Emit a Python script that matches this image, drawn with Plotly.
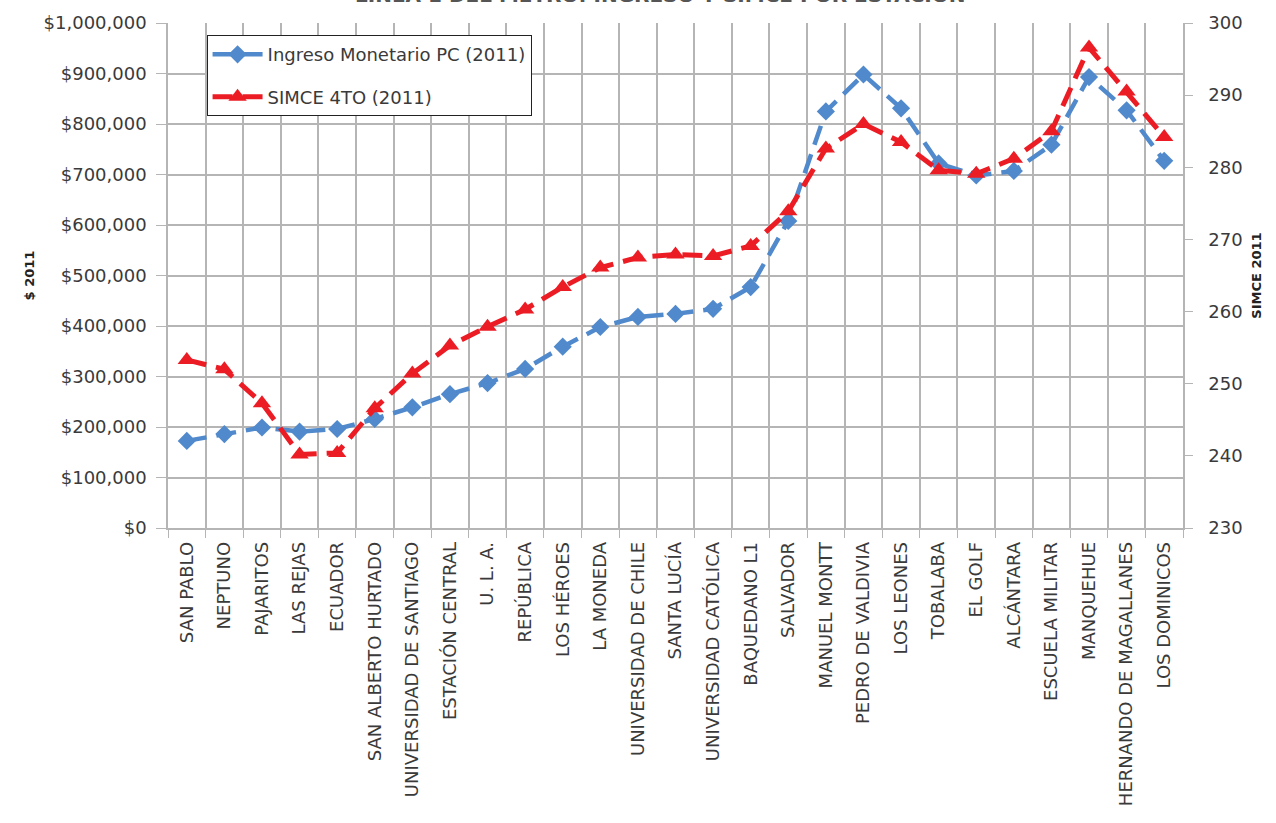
import plotly.graph_objects as go

estaciones = ["SAN PABLO", "NEPTUNO", "PAJARITOS", "LAS REJAS", "ECUADOR",
              "SAN ALBERTO HURTADO", "UNIVERSIDAD DE SANTIAGO", "ESTACIÓN CENTRAL",
              "U. L. A.", "REPÚBLICA", "LOS HÉROES", "LA MONEDA",
              "UNIVERSIDAD DE CHILE", "SANTA LUCÍA", "UNIVERSIDAD CATÓLICA",
              "BAQUEDANO L1", "SALVADOR", "MANUEL MONTT", "PEDRO DE VALDIVIA",
              "LOS LEONES", "TOBALABA", "EL GOLF", "ALCÁNTARA", "ESCUELA MILITAR",
              "MANQUEHUE", "HERNANDO DE MAGALLANES", "LOS DOMINICOS"]

ingreso = [172500, 186000, 199000, 191000, 196000, 216000, 239000, 265000,
           287000, 315000, 359000, 398000, 418000, 424000, 434000, 477000,
           608000, 825000, 898000, 831000, 722000, 698000, 707000, 759000,
           893000, 827000, 727000]

simce = [253.3, 252.0, 247.3, 240.2, 240.4, 246.6, 251.4, 255.3,
         257.9, 260.3, 263.4, 266.1, 267.5, 267.9, 267.7, 269.1,
         273.9, 282.6, 286.0, 283.5, 279.6, 279.1, 281.2, 285.0,
         296.6, 290.5, 284.2]

left_ticks = list(range(0, 1000001, 100000))
right_ticks = list(range(230, 301, 10))

FONT = "DejaVu Sans"
TXT = "#3a3a3a"
GRID = "#b5b5b5"
BLUE = "#5089cc"
RED = "#ec1c24"

fig = go.Figure()
fig.add_trace(go.Scatter(
    x=estaciones, y=ingreso, name="Ingreso Monetario PC (2011)",
    mode="lines+markers", legendgroup="a",
    line=dict(color=BLUE, width=4.5, dash="20px,10px"),
    marker=dict(symbol="diamond", size=14, color=BLUE),
    yaxis="y"))
fig.add_trace(go.Scatter(
    x=estaciones, y=simce, name="SIMCE 4TO (2011)",
    mode="lines+markers", legendgroup="b",
    line=dict(color=RED, width=5, dash="20px,10px"),
    marker=dict(symbol="triangle-up", size=16, color=RED),
    yaxis="y2"))

fig.add_annotation(
    text="<b>LÍNEA 1 DEL METRO: INGRESO Y SIMCE POR ESTACIÓN</b>",
    xref="paper", yref="paper", x=0.485, y=(528 - 4) / 510,
    xanchor="center", yanchor="bottom", showarrow=False,
    font=dict(size=20, color="#555555"))

fig.update_layout(
    width=1276, height=823,
    margin=dict(l=168, r=93, t=18, b=295),
    paper_bgcolor="white", plot_bgcolor="white",
    font=dict(family=FONT, color=TXT, size=15),
    showlegend=True,
    legend=dict(x=0.038, y=0.976, xanchor="left", yanchor="top",
                bgcolor="white", bordercolor="#222222", borderwidth=1,
                font=dict(size=18, color=TXT), itemwidth=50,
                tracegroupgap=16),
    xaxis=dict(type="category", tickson="boundaries", ticks="outside",
               ticklen=8, tickcolor=GRID, tickangle=-90,
               ticklabelstandoff=5,
               showgrid=True, gridcolor=GRID, gridwidth=1.5,
               showline=True, linecolor=GRID, linewidth=1.5,
               tickfont=dict(size=18, color=TXT), range=[-0.5, 26.5]),
    yaxis=dict(range=[0, 1000000], tickvals=left_ticks,
               tickformat="$,d", ticks="outside", ticklen=10, tickcolor=GRID,
               ticklabelstandoff=6,
               showgrid=True, gridcolor=GRID, gridwidth=1.5,
               showline=True, linecolor=GRID, linewidth=1.5,
               zeroline=False, tickfont=dict(size=18, color=TXT),
               title=dict(text="<b>$ 2011</b>", font=dict(size=13, color="#222222"),
                          standoff=6)),
    yaxis2=dict(range=[230, 300], tickvals=right_ticks, overlaying="y",
                side="right", ticks="outside", ticklen=8, tickcolor=GRID,
                ticklabelstandoff=12,
                showgrid=False, showline=True, linecolor=GRID, linewidth=1.5,
                zeroline=False, tickfont=dict(size=18, color=TXT),
                title=dict(text="<b>SIMCE 2011</b>", font=dict(size=13, color="#222222"),
                           standoff=10)),
)

fig.write_html("out.html")
